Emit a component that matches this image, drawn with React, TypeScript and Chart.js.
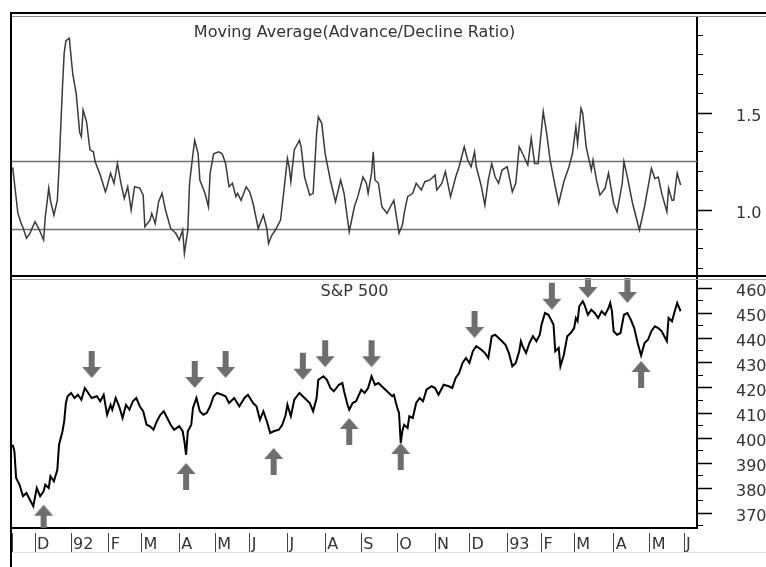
import React, { useEffect, useRef } from 'react';
import { Chart, registerables } from 'chart.js';

Chart.register(...registerables);

// ---------- data (x = trading-day index counted from 1 Nov 1991) ----------
const maTitle = 'Moving Average(Advance/Decline Ratio)';
const spTitle = 'S&P 500';

const maDays = [
  7, 10, 12, 13, 15, 17, 20, 22, 23, 25,
  26, 28, 29, 31, 33, 34, 35, 36, 37, 38,
  40, 41, 42, 44, 46, 47, 48, 50, 52, 54,
  55, 58, 61, 62, 64, 66, 68, 70, 72, 74,
  76, 78, 81, 83, 84, 87, 88, 90, 92, 94,
  96, 99, 102, 104, 106, 107, 109, 110, 112, 113,
  115, 116, 119, 121, 122, 124, 127, 129, 131, 133,
  135, 137, 138, 140, 143, 145, 147, 150, 153, 155,
  156, 158, 160, 163, 165, 167, 168, 169, 171, 174,
  175, 177, 180, 182, 184, 185, 187, 189, 192, 195,
  198, 200, 203, 206, 208, 211, 213, 214, 216, 217,
  218, 220, 222, 225, 227, 229, 232, 234, 235, 237,
  240, 242, 245, 247, 250, 253, 254, 257, 259, 262,
  265, 267, 270, 272, 274, 276, 277, 280, 282, 284,
  286, 288, 290, 292, 295, 298, 300, 302, 304, 307,
  309, 311, 313, 316, 318, 320, 323, 325, 328, 331,
  333, 335, 336, 338, 339, 341, 344, 345, 347, 349,
  352, 354, 357, 359, 362, 363, 365, 368, 372, 375,
  379, 381, 383, 385, 388, 389, 391, 392, 394, 396,
];
const maValues = [
  1.22, 0.985, 0.93, 0.91, 0.855, 0.88, 0.94, 0.907, 0.888, 0.845,
  0.965, 1.113, 1.05, 0.974, 1.05, 1.22, 1.43, 1.636, 1.81, 1.873,
  1.885, 1.79, 1.70, 1.60, 1.40, 1.378, 1.515, 1.455, 1.31, 1.30,
  1.25, 1.18, 1.094, 1.12, 1.19, 1.138, 1.24, 1.14, 1.06, 1.12,
  1.0, 1.12, 1.113, 1.077, 0.914, 0.948, 0.983, 0.93, 1.043, 1.086,
  1.0, 0.905, 0.88, 0.845, 0.897, 0.777, 0.897, 1.138, 1.29, 1.36,
  1.29, 1.155, 1.086, 1.017, 1.19, 1.29, 1.30, 1.29, 1.24, 1.12,
  1.138, 1.069, 1.086, 1.05, 1.12, 1.094, 1.035, 0.905, 0.974, 0.905,
  0.828, 0.871, 0.897, 0.948, 1.103, 1.266, 1.223, 1.146, 1.31, 1.36,
  1.326, 1.17, 1.077, 1.086, 1.395, 1.48, 1.447, 1.29, 1.155, 1.043,
  1.155, 1.086, 0.888, 1.017, 1.069, 1.17, 1.138, 1.086, 1.19, 1.30,
  1.155, 1.138, 1.017, 0.983, 1.017, 1.05, 0.88, 0.923, 0.983, 1.069,
  1.086, 1.138, 1.103, 1.146, 1.155, 1.18, 1.103, 1.138, 1.198, 1.069,
  1.17, 1.223, 1.326, 1.258, 1.223, 1.30, 1.223, 1.12, 1.026, 1.155,
  1.24, 1.17, 1.138, 1.206, 1.223, 1.094, 1.138, 1.326, 1.29, 1.232,
  1.37, 1.24, 1.24, 1.507, 1.395, 1.258, 1.12, 1.035, 1.146, 1.223,
  1.29, 1.43, 1.344, 1.524, 1.498, 1.326, 1.206, 1.258, 1.155, 1.077,
  1.112, 1.19, 1.035, 0.991, 1.138, 1.25, 1.17, 1.035, 0.897, 1.017,
  1.215, 1.163, 1.17, 1.086, 0.991, 1.112, 1.05, 1.05, 1.19, 1.129,
];
const bandLevels = [1.25, 0.9];

const spDays = [
  7, 8, 9, 11, 13, 15, 17, 19, 21, 23,
  25, 26, 28, 29, 31, 33, 34, 36, 37, 38,
  39, 41, 43, 45, 47, 49, 51, 53, 56, 58,
  60, 62, 64, 65, 67, 69, 71, 73, 75, 77,
  79, 81, 83, 85, 87, 89, 91, 93, 95, 97,
  99, 101, 104, 106, 107, 108, 109, 111, 112, 114,
  116, 118, 120, 122, 124, 126, 129, 131, 133, 136,
  139, 142, 144, 147, 149, 151, 153, 155, 157, 159,
  162, 164, 166, 167, 169, 171, 174, 177, 180, 182,
  184, 185, 188, 190, 192, 194, 197, 199, 200, 202,
  203, 205, 207, 210, 212, 214, 216, 218, 220, 223,
  225, 228, 229, 231, 232, 233, 234, 235, 237, 238,
  240, 242, 244, 246, 248, 251, 253, 255, 258, 261,
  263, 265, 267, 269, 271, 273, 275, 277, 280, 282,
  284, 286, 288, 290, 292, 294, 296, 298, 300, 302,
  303, 304, 306, 308, 310, 312, 314, 315, 317, 319,
  321, 322, 323, 325, 326, 328, 330, 332, 334, 335,
  336, 337, 339, 340, 342, 344, 346, 348, 350, 352,
  354, 355, 356, 357, 359, 361, 363, 365, 367, 369,
  371, 373, 375, 377, 379, 381, 383, 385, 387, 388,
  389, 391, 392, 394, 396,
];
const spValues = [
  397.3, 394.7, 384, 381.3, 376.7, 378, 375.3, 372.7, 380, 376.7,
  378.7, 381.3, 380, 384.7, 382.7, 387.3, 397.3, 402.7, 406.7, 414,
  416.7, 418, 416, 417.3, 415.3, 420, 418, 416, 416.7, 414.7,
  417.3, 409.3, 413.3, 411.3, 416, 412.7, 408, 413.3, 411.3, 414.7,
  416, 412.7, 410.7, 405.3, 404.7, 403.3, 406.7, 409.3, 410.7, 408,
  405.3, 403.3, 404.7, 402.7, 398.7, 393.3, 402.7, 405.3, 412, 416,
  410.7, 409.3, 410, 412.7, 416.7, 418, 417.3, 416.7, 414, 416,
  412.7, 416, 417.3, 414, 412.7, 407.3, 410.7, 406.7, 402, 402.7,
  403.3, 405.3, 409.3, 413.3, 408.7, 415.3, 418, 416, 414, 410.7,
  416, 423.3, 424.7, 423.3, 420, 418.7, 421.3, 422, 418.7, 413.3,
  411.3, 414, 414.7, 419.3, 418, 420, 424.7, 421.3, 422, 420,
  418.7, 416.7, 417.3, 412, 410, 398, 403, 405.3, 404, 408.7,
  408, 414, 416, 414.7, 419.3, 420.7, 420, 417.3, 421.3, 420.7,
  420, 424, 426, 430, 432, 430, 434.7, 436.7, 435.3, 434,
  432, 440.7, 441.3, 440, 438.7, 437.3, 434, 428.7, 430, 434.7,
  438.7, 436.7, 434, 438, 440.7, 438.7, 441.3, 445.3, 450, 449.3,
  446.7, 445.3, 434.7, 436, 428.7, 433.3, 440.7, 442, 444, 448,
  446.7, 452.7, 454.7, 453.3, 449.3, 451.3, 450, 448, 450.7, 449.3,
  452, 454, 450.7, 442.7, 441.3, 442, 449.3, 450, 447.3, 444,
  438, 433, 438, 439.3, 442.7, 444.7, 444, 442.7, 440, 438.7,
  448, 446.7, 449.3, 454, 450.7,
];

const downArrowDays = [53, 113, 131, 176, 189, 216, 276, 321, 342, 365];
const downArrowTips = [424, 420, 424, 423.3, 428.3, 428.3, 440, 451.3, 456, 454];
const upArrowDays = [25, 108, 159, 203, 233, 373];
const upArrowTips = [373.3, 390, 396, 408, 398, 430.8];

const monthTickDays = [7, 20, 41, 63, 82, 104, 125, 145, 167, 189, 210, 231, 253, 273, 295, 315, 334, 357, 378, 398];
const monthLabels = ['', 'D', '92', 'F', 'M', 'A', 'M', 'J', 'J', 'A', 'S', 'O', 'N', 'D', '93', 'F', 'M', 'A', 'M', 'J'];

const maAxisTicks = [0.7, 0.8, 0.9, 1.0, 1.1, 1.2, 1.3, 1.4, 1.5, 1.6, 1.7, 1.8, 1.9];
const maAxisLabels = ['', '', '', '1.0', '', '', '', '', '1.5', '', '', '', ''];
const spAxisTicks = [365, 370, 375, 380, 385, 390, 395, 400, 405, 410, 415, 420, 425, 430, 435, 440, 445, 450, 455, 460];
const spAxisLabels = ['', '370', '', '380', '', '390', '', '400', '', '410', '', '420', '', '430', '', '440', '', '450', '', '460'];

// ---------- styling ----------
const X_MIN = 6.6;
const X_MAX = 405.55;
const MA_MIN = 0.66;
const MA_MAX = 1.995;
const SP_MIN = 364;
const SP_MAX = 464;
const FONT_FAMILY = '"DejaVu Sans", "Liberation Sans", sans-serif';
const TEXT = '#333333';
const ARROW_COLOR = '#6e6e6e';

Chart.defaults.font.family = FONT_FAMILY;

function makeArrow(down: boolean): HTMLCanvasElement {
  const c = document.createElement('canvas');
  c.width = 20;
  c.height = 56;
  const g = c.getContext('2d') as CanvasRenderingContext2D;
  g.fillStyle = ARROW_COLOR;
  g.beginPath();
  if (down) {
    g.moveTo(7, 1); g.lineTo(13, 1); g.lineTo(13, 17); g.lineTo(19.5, 17);
    g.lineTo(10, 28); g.lineTo(0.5, 17); g.lineTo(7, 17);
  } else {
    g.moveTo(10, 28); g.lineTo(19.5, 39); g.lineTo(13, 39); g.lineTo(13, 55);
    g.lineTo(7, 55); g.lineTo(7, 39); g.lineTo(0.5, 39);
  }
  g.closePath();
  g.fill();
  return c;
}

function seg(ctx: CanvasRenderingContext2D, x1: number, y1: number, x2: number, y2: number, color: string, w: number) {
  ctx.beginPath();
  ctx.strokeStyle = color;
  ctx.lineWidth = w;
  ctx.moveTo(x1, y1);
  ctx.lineTo(x2, y2);
  ctx.stroke();
}

function yAxis(min: number, max: number, tickVals: number[], labels: string[]) {
  return {
    type: 'linear',
    position: 'right',
    min,
    max,
    bounds: 'data',
    afterBuildTicks: (s: any) => { s.ticks = tickVals.map((v) => ({ value: v })); },
    afterFit: (s: any) => { s.width = 69; s.paddingTop = 0; s.paddingBottom = 0; },
    border: { display: true, color: '#000', width: 2 },
    grid: {
      drawOnChartArea: false,
      drawTicks: true,
      tickLength: 15,
      tickColor: '#000',
      tickWidth: (c: any) => (labels[c.index] ? 1.5 : 1),
      tickBorderDash: (c: any) => (labels[c.index] ? [] : [5, 100]),
    },
    ticks: {
      autoSkip: false,
      padding: 24,
      labelOffset: 3.5,
      color: TEXT,
      font: { family: FONT_FAMILY, size: 16 },
      callback: (_v: any, i: number) => labels[i],
    },
  };
}

export default function App() {
  const topRef = useRef<HTMLCanvasElement | null>(null);
  const botRef = useRef<HTMLCanvasElement | null>(null);

  useEffect(() => {
    const downImg = makeArrow(true);
    const upImg = makeArrow(false);

    const topFrame = {
      id: 'topFrame',
      afterDraw(chart: any) {
        const { ctx, chartArea: a, width, height } = chart;
        ctx.save();
        seg(ctx, a.left - 2, a.top - 4, width, a.top - 4, '#000', 2);
        seg(ctx, a.left, a.top - 0.5, width, a.top - 0.5, '#8a8a8a', 1);
        seg(ctx, a.left - 1, a.top - 5, a.left - 1, height, '#000', 2);
        seg(ctx, a.left - 2, a.bottom, width, a.bottom, '#000', 2);
        ctx.fillStyle = TEXT;
        ctx.font = `16px ${FONT_FAMILY}`;
        ctx.textAlign = 'center';
        ctx.textBaseline = 'middle';
        ctx.fillText(maTitle, (a.left + a.right) / 2, a.top + 15.8);
        ctx.restore();
      },
    };
    const botFrame = {
      id: 'botFrame',
      afterDraw(chart: any) {
        const { ctx, chartArea: a, width, height } = chart;
        ctx.save();
        seg(ctx, a.left - 1, 0, a.left - 1, height, '#000', 2);
        seg(ctx, a.left, a.top + 1.5, width, a.top + 1.5, '#a0a0a0', 1);
        seg(ctx, a.left, a.bottom + 24.5, width, a.bottom + 24.5, '#e2e2e2', 1);
        ctx.fillStyle = TEXT;
        ctx.font = `16px ${FONT_FAMILY}`;
        ctx.textAlign = 'center';
        ctx.textBaseline = 'middle';
        ctx.fillText(spTitle, (a.left + a.right) / 2, a.top + 13.5);
        ctx.restore();
      },
    };

    const top = new Chart(topRef.current as HTMLCanvasElement, {
      type: 'line',
      data: {
        datasets: [
          {
            data: maDays.map((d, i) => ({ x: d, y: maValues[i] })),
            borderColor: '#3a3a3a',
            borderWidth: 1.5,
            pointRadius: 0,
            tension: 0,
          },
          ...bandLevels.map((lv) => ({
            data: [{ x: X_MIN, y: lv }, { x: X_MAX, y: lv }],
            borderColor: '#707070',
            borderWidth: 1.6,
            pointRadius: 0,
          })),
        ],
      },
      options: {
        animation: false,
        responsive: true,
        maintainAspectRatio: false,
        events: [],
        layout: { autoPadding: false, padding: { left: 12, top: 17, right: 0, bottom: 1 } },
        plugins: { legend: { display: false }, tooltip: { enabled: false } },
        scales: {
          x: { type: 'linear', display: false, min: X_MIN, max: X_MAX, bounds: 'data' },
          y: yAxis(MA_MIN, MA_MAX, maAxisTicks, maAxisLabels),
        },
      } as any,
      plugins: [topFrame],
    } as any);

    const bot = new Chart(botRef.current as HTMLCanvasElement, {
      type: 'line',
      data: {
        datasets: [
          {
            data: downArrowDays.map((d, i) => ({ x: d, y: downArrowTips[i] })),
            showLine: false,
            pointStyle: downImg,
            pointRadius: 5,
            clip: 0,
          },
          {
            data: upArrowDays.map((d, i) => ({ x: d, y: upArrowTips[i] })),
            showLine: false,
            pointStyle: upImg,
            pointRadius: 5,
            clip: 0,
          },
          {
            data: spDays.map((d, i) => ({ x: d, y: spValues[i] })),
            borderColor: '#000',
            borderWidth: 2,
            pointRadius: 0,
            tension: 0,
          },
        ],
      },
      options: {
        animation: false,
        responsive: true,
        maintainAspectRatio: false,
        events: [],
        layout: { autoPadding: false, padding: { left: 12, top: 1, right: 0, bottom: 0 } },
        plugins: { legend: { display: false }, tooltip: { enabled: false } },
        scales: {
          x: {
            type: 'linear',
            position: 'bottom',
            min: X_MIN,
            max: X_MAX,
            bounds: 'data',
            afterBuildTicks: (s: any) => { s.ticks = monthTickDays.map((v) => ({ value: v })); },
            afterFit: (s: any) => { s.height = 39; s.paddingLeft = 0; s.paddingRight = 0; },
            border: { display: true, color: '#000', width: 2 },
            grid: {
              drawOnChartArea: false,
              drawTicks: true,
              tickLength: 24,
              tickColor: '#444',
              tickWidth: 1,
              tickBorderDash: [20, 4],
              tickBorderDashOffset: 20,
            },
            ticks: {
              autoSkip: false,
              maxRotation: 0,
              minRotation: 0,
              align: 'start',
              labelOffset: 2,
              padding: -16.6,
              color: TEXT,
              font: { family: FONT_FAMILY, size: 16 },
              callback: (_v: any, i: number) => monthLabels[i],
            },
          },
          y: yAxis(SP_MIN, SP_MAX, spAxisTicks, spAxisLabels),
        },
      } as any,
      plugins: [botFrame],
    } as any);

    return () => {
      top.destroy();
      bot.destroy();
    };
  }, []);

  return (
    <div style={{ position: 'fixed', left: 0, top: 0, width: 766, height: 567, background: '#fff' }}>
      <div style={{ position: 'absolute', left: 0, top: 0, width: 766, height: 277 }}>
        <canvas ref={topRef} />
      </div>
      <div style={{ position: 'absolute', left: 0, top: 277, width: 766, height: 290 }}>
        <canvas ref={botRef} />
      </div>
    </div>
  );
}
